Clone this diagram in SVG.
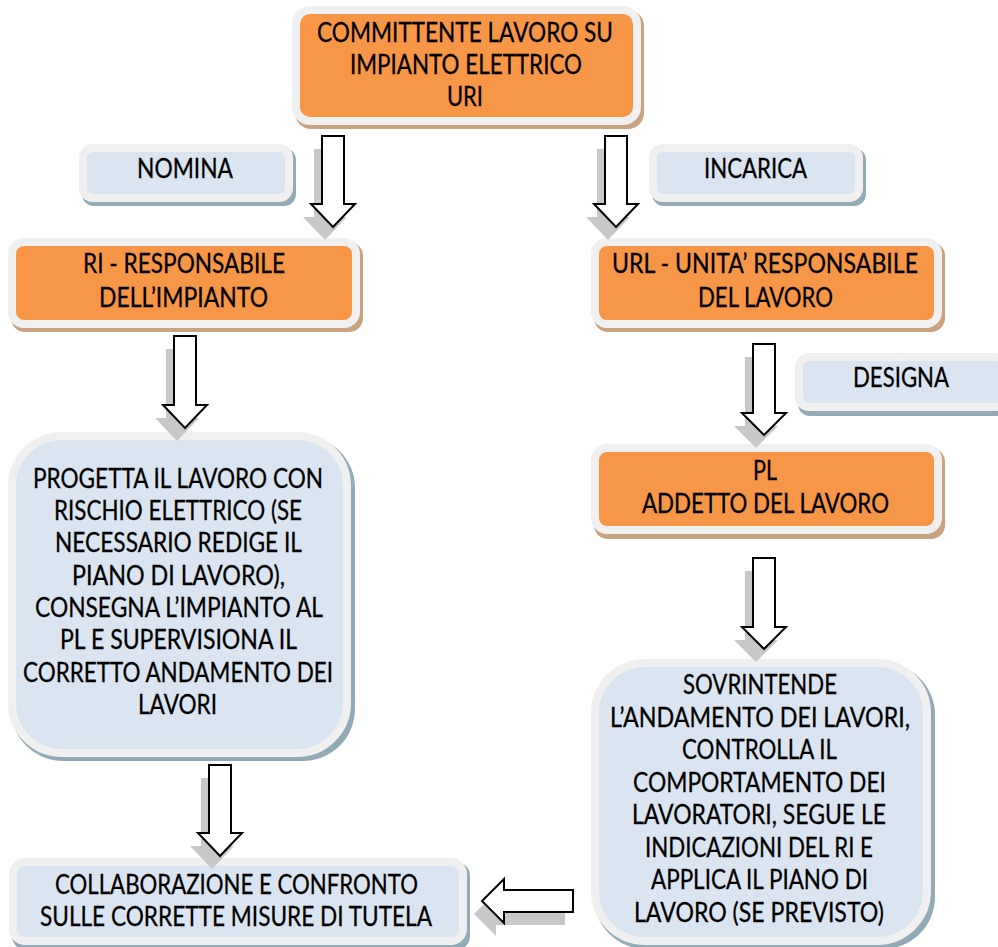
<svg xmlns="http://www.w3.org/2000/svg" width="998" height="947" viewBox="0 0 998 947">
<style>
.bord{stroke:#f0f0f0;stroke-width:8}
.or{fill:#f79646}
.bl{fill:#dbe5f1}
.shO{fill:#c9a27f}
.shB{fill:#93abb6}
.ar{fill:#ffffff;stroke:#000000;stroke-width:2;stroke-linejoin:miter}
.as{fill:#c8c8c8}
text{font-family:Lato,"Open Sans","Liberation Sans",sans-serif;font-size:26px;fill:#000000;stroke:#000000;stroke-width:0.3}
</style>
<rect width="998" height="947" fill="#ffffff"/>

<g id="node-committente">
<rect class="shO" x="295" y="10" width="349" height="119" rx="16"/>
<rect class="or bord" x="296" y="10" width="341" height="111" rx="14"/>
<text x="317" y="42" textLength="296" lengthAdjust="spacingAndGlyphs">COMMITTENTE LAVORO SU</text>
<text x="350" y="74" textLength="232" lengthAdjust="spacingAndGlyphs">IMPIANTO ELETTRICO</text>
<text x="447" y="106" textLength="36" lengthAdjust="spacingAndGlyphs">URI</text>
</g>

<g id="node-nomina">
<rect class="shB" x="82" y="148" width="214" height="58" rx="12"/>
<rect class="bl bord" x="83" y="148" width="206" height="50" rx="10"/>
<text x="137" y="178" textLength="96" lengthAdjust="spacingAndGlyphs">NOMINA</text>
</g>

<g id="node-incarica">
<rect class="shB" x="652" y="148" width="214" height="58" rx="12"/>
<rect class="bl bord" x="653" y="148" width="206" height="50" rx="10"/>
<text x="704" y="178" textLength="103" lengthAdjust="spacingAndGlyphs">INCARICA</text>
</g>

<g id="node-ri">
<rect class="shO" x="11" y="242" width="352" height="90" rx="14"/>
<rect class="or bord" x="12" y="242" width="344" height="82" rx="12"/>
<text x="83" y="273" textLength="202" lengthAdjust="spacingAndGlyphs">RI - RESPONSABILE</text>
<text x="99" y="307" textLength="169" lengthAdjust="spacingAndGlyphs">DELL’IMPIANTO</text>
</g>

<g id="node-url">
<rect class="shO" x="594" y="242" width="351" height="90" rx="14"/>
<rect class="or bord" x="595" y="242" width="343" height="82" rx="12"/>
<text x="612" y="273" textLength="306" lengthAdjust="spacingAndGlyphs">URL - UNITA’ RESPONSABILE</text>
<text x="698" y="307" textLength="135" lengthAdjust="spacingAndGlyphs">DEL LAVORO</text>
</g>

<g id="node-designa">
<rect class="shB" x="798" y="357" width="214" height="59" rx="12"/>
<rect class="bl bord" x="799" y="357" width="206" height="50" rx="10"/>
<text x="853" y="387" textLength="96" lengthAdjust="spacingAndGlyphs">DESIGNA</text>
</g>

<g id="node-pl">
<rect class="shO" x="594" y="448" width="351" height="91" rx="14"/>
<rect class="or bord" x="595" y="448" width="343" height="82" rx="12"/>
<text x="753" y="480" textLength="24" lengthAdjust="spacingAndGlyphs">PL</text>
<text x="642" y="513" textLength="247" lengthAdjust="spacingAndGlyphs">ADDETTO DEL LAVORO</text>
</g>

<g id="node-progetta">
<rect class="shB" x="11" y="436" width="344" height="325" rx="52"/>
<rect class="bl bord" x="12" y="436" width="335" height="317" rx="50"/>
<text x="33" y="488" textLength="290" lengthAdjust="spacingAndGlyphs">PROGETTA IL LAVORO CON</text>
<text x="54" y="520" textLength="248" lengthAdjust="spacingAndGlyphs">RISCHIO ELETTRICO (SE</text>
<text x="55" y="552" textLength="247" lengthAdjust="spacingAndGlyphs">NECESSARIO REDIGE IL</text>
<text x="72" y="585" textLength="213" lengthAdjust="spacingAndGlyphs">PIANO DI LAVORO),</text>
<text x="35" y="617" textLength="288" lengthAdjust="spacingAndGlyphs">CONSEGNA L’IMPIANTO AL</text>
<text x="60" y="649" textLength="237" lengthAdjust="spacingAndGlyphs">PL E SUPERVISIONA IL</text>
<text x="23" y="682" textLength="310" lengthAdjust="spacingAndGlyphs">CORRETTO ANDAMENTO DEI</text>
<text x="138" y="714" textLength="79" lengthAdjust="spacingAndGlyphs">LAVORI</text>
</g>

<g id="node-sovrintende">
<rect class="shB" x="594" y="663" width="341" height="286" rx="52"/>
<rect class="bl bord" x="595" y="663" width="332" height="278" rx="50"/>
<text x="683" y="694" textLength="154" lengthAdjust="spacingAndGlyphs">SOVRINTENDE</text>
<text x="610" y="727" textLength="300" lengthAdjust="spacingAndGlyphs">L’ANDAMENTO DEI LAVORI,</text>
<text x="682" y="759" textLength="155" lengthAdjust="spacingAndGlyphs">CONTROLLA IL</text>
<text x="633" y="792" textLength="253" lengthAdjust="spacingAndGlyphs">COMPORTAMENTO DEI</text>
<text x="632" y="824" textLength="254" lengthAdjust="spacingAndGlyphs">LAVORATORI, SEGUE LE</text>
<text x="645" y="857" textLength="228" lengthAdjust="spacingAndGlyphs">INDICAZIONI DEL RI E</text>
<text x="651" y="889" textLength="217" lengthAdjust="spacingAndGlyphs">APPLICA IL PIANO DI</text>
<text x="634" y="922" textLength="250" lengthAdjust="spacingAndGlyphs">LAVORO (SE PREVISTO)</text>
</g>

<g id="node-collaborazione">
<rect class="shB" x="12" y="862" width="458" height="88" rx="14"/>
<rect class="bl bord" x="13" y="862" width="450" height="79" rx="12"/>
<text x="55" y="894" textLength="363" lengthAdjust="spacingAndGlyphs">COLLABORAZIONE E CONFRONTO</text>
<text x="40" y="926" textLength="392" lengthAdjust="spacingAndGlyphs">SULLE CORRETTE MISURE DI TUTELA</text>
</g>

<g id="connectors">
<g transform="translate(-8,13)">
<polygon class="as" points="322,136 344,136 344,204 355,204 333,227 311,204 322,204"/>
<polygon class="as" points="605,136 627,136 627,204 638,204 616,227 594,204 605,204"/>
<polygon class="as" points="174,336 196,336 196,405 207,405 185,428 163,405 174,405"/>
<polygon class="as" points="753,344 775,344 775,413 786,413 764,435 742,413 753,413"/>
<polygon class="as" points="753,558 775,558 775,627 786,627 764,649 742,627 753,627"/>
<polygon class="as" points="209,765 231,765 231,833 242,833 220,856 198,833 209,833"/>
<polygon class="as" points="573,890 573,912 504,912 504,923 482,901 504,879 504,890"/>
</g>
<polygon class="ar" points="322,136 344,136 344,204 355,204 333,227 311,204 322,204"/>
<polygon class="ar" points="605,136 627,136 627,204 638,204 616,227 594,204 605,204"/>
<polygon class="ar" points="174,336 196,336 196,405 207,405 185,428 163,405 174,405"/>
<polygon class="ar" points="753,344 775,344 775,413 786,413 764,435 742,413 753,413"/>
<polygon class="ar" points="753,558 775,558 775,627 786,627 764,649 742,627 753,627"/>
<polygon class="ar" points="209,765 231,765 231,833 242,833 220,856 198,833 209,833"/>
<polygon class="ar" points="573,890 573,912 504,912 504,923 482,901 504,879 504,890"/>
</g>
</svg>
